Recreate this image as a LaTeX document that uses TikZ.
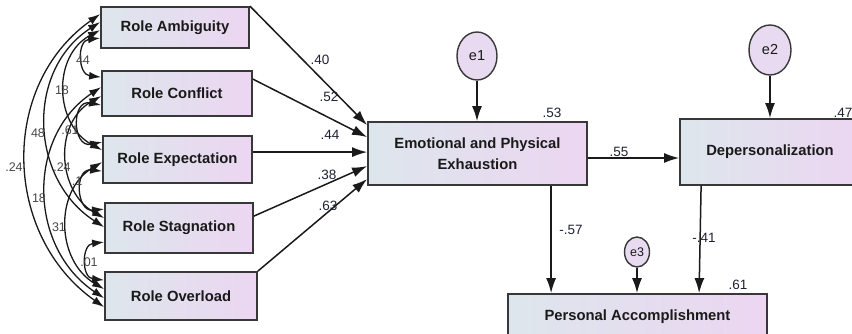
\documentclass[tikz,border=0pt]{standalone}
\usepackage{fontspec}
\setmainfont{Liberation Sans}
\usetikzlibrary{arrows.meta,calc,shapes.geometric}
\definecolor{boxl}{HTML}{DDE6EC}
\definecolor{boxr}{HTML}{ECD6F1}
\definecolor{edge}{HTML}{383838}
\definecolor{ink}{HTML}{1A1A1A}
\definecolor{errfill}{HTML}{E8DAF0}
\definecolor{num}{HTML}{1E2232}
\definecolor{cnum}{HTML}{474747}
\begin{document}
\begin{tikzpicture}[x=1pt,y=-1pt,
  box/.style={draw=edge, line width=1.8pt, left color=boxl, right color=boxr,
    inner sep=0pt, align=center, text=ink,
    font=\bfseries\fontsize{14.8}{20.5}\selectfont},
  err/.style={ellipse, draw=edge, line width=1.4pt, fill=errfill, inner sep=0pt,
    text=ink, font=\fontsize{14.5}{16}\selectfont},
  arr/.style={draw=ink, line width=1.5pt, -{Latex[length=15pt,width=10pt]}},
  cor/.style={draw=ink, line width=1.3pt,
    {Latex[length=12pt,width=8pt]}-{Latex[length=12pt,width=8pt]}},
  lab/.style={text=num, font=\fontsize{13.5}{15}\selectfont, inner sep=0pt},
  clab/.style={text=cnum, font=\fontsize{12.5}{14}\selectfont, inner sep=0pt}]
\useasboundingbox (0,0) rectangle (852,334);
\fill[white] (0,0) rectangle (852,334);

% exogenous role variables
\node[box, minimum width=148pt, minimum height=41pt] (A) at (175,27.5) {Role Ambiguity};
\node[box, minimum width=150pt, minimum height=45pt] (C) at (177,93.5) {Role Conflict};
\node[box, minimum width=149pt, minimum height=47pt] (X) at (177.5,159.5) {Role Expectation};
\node[box, minimum width=148pt, minimum height=50pt] (S) at (179,228) {Role Stagnation};
\node[box, minimum width=152pt, minimum height=48pt] (O) at (181,296) {Role Overload};

% burnout dimensions
\node[box, minimum width=219pt, minimum height=63pt] (E) at (477.5,153.5) {Emotional and Physical\\Exhaustion};
\node[box, minimum width=180pt, minimum height=66pt] (D) at (770,152) {Depersonalization};
\node[box, minimum width=259pt, minimum height=46pt] (P) at (637.5,317) {Personal Accomplishment};

% residual terms
\node[err, minimum width=40pt, minimum height=48pt] (e1) at (477,56) {e1};
\node[err, minimum width=42pt, minimum height=50pt] (e2) at (770,50) {e2};
\node[err, minimum width=25pt, minimum height=30pt, font=\fontsize{12.5}{14}\selectfont] (e3) at (637,252) {e3};

\draw[arr] (e1) -- (e1 |- E.north);
\draw[arr] (e2) -- (e2 |- D.north);
\draw[arr] (e3) -- (e3 |- P.north);

% structural paths
\draw[arr] ([yshift=-4.5pt]E.east) -- ([yshift=-6pt]D.west);
\coordinate (ep) at ($(E.south west)+(184,0)$);
\draw[arr] (ep) -- (ep |- P.north);
\coordinate (dp) at ($(D.south west)+(22,0)$);
\coordinate (pd) at ($(P.north west)+(192,0)$);
\draw[arr] (dp) -- (pd);

% paths into exhaustion
\coordinate (eA) at ($(E.north west)+(0,4)$);
\coordinate (eC) at ($(E.north west)+(0,16)$);
\coordinate (eX) at ($(E.north west)+(0,31)$);
\coordinate (eS) at ($(E.north west)+(0,45)$);
\coordinate (eO) at ($(E.north west)+(0,58)$);
\coordinate (cE) at ($(C.north east)+(0,9)$);
\coordinate (xE) at ($(X.north east)+(0,17)$);
\coordinate (sE) at ($(S.north east)+(0,14)$);
\draw[arr] (A.north east) -- (eA);
\draw[arr] (cE) -- (eC);
\draw[arr] (xE) -- (eX);
\draw[arr] (sE) -- (eS);
\draw[arr] (O.north east) -- (eO);

% coefficients
\node[lab] at (320,60) {.40};
\node[lab] at (329,97) {.52};
\node[lab] at (330,135) {.44};
\node[lab] at (327,175) {.38};
\node[lab] at (328,206) {.63};
\node[lab] at (552,113) {.53};
\node[lab] at (619,152) {.55};
\node[lab] at (843,113) {.47};
\node[lab] at (571,230) {-.57};
\node[lab] at (704,238) {-.41};
\node[lab] at (738,285) {.61};

% attachment points of the covariance arcs
\coordinate (a1) at ($(A.north west)+(0,8)$);
\coordinate (a2) at ($(A.north west)+(0,16)$);
\coordinate (a3) at ($(A.north west)+(0,24)$);
\coordinate (a4) at ($(A.north west)+(0,32)$);
\coordinate (c1) at ($(C.north west)+(0,7)$);
\coordinate (c2) at ($(C.north west)+(0,17)$);
\coordinate (c3) at ($(C.north west)+(0,26)$);
\coordinate (c4) at ($(C.north west)+(0,35)$);
\coordinate (x1) at ($(X.north west)+(0,7)$);
\coordinate (x2) at ($(X.north west)+(0,15)$);
\coordinate (x3) at ($(X.north west)+(0,27)$);
\coordinate (x4) at ($(X.north west)+(0,36)$);
\coordinate (s1) at ($(S.north west)+(0,7)$);
\coordinate (s2) at ($(S.north west)+(0,16)$);
\coordinate (s3) at ($(S.north west)+(0,25)$);
\coordinate (s4) at ($(S.north west)+(0,40)$);
\coordinate (o1) at ($(O.north west)+(0,9)$);
\coordinate (o2) at ($(O.north west)+(0,18)$);
\coordinate (o3) at ($(O.north west)+(0,27)$);
\coordinate (o4) at ($(O.north west)+(0,36)$);

% covariance arcs
\draw[cor] (a1) .. controls +(-101.3,71.4) and +(-101.3,-71.4) .. (o4);
\draw[cor] (a2) .. controls +(-74.7,48) and +(-74.7,-48) .. (s3);
\draw[cor] (c2) .. controls +(-75.3,50.1) and +(-75.3,-50.1) .. (o3);
\draw[cor] (a3) .. controls +(-48,25.6) and +(-48,-25.6) .. (x2);
\draw[cor] (c3) .. controls +(-47.3,26.9) and +(-47.3,-26.9) .. (s2);
\draw[cor] (x3) .. controls +(-48,28.7) and +(-48,-28.7) .. (o2);
\draw[cor] (a4) .. controls +(-23.3,2.5) and +(-23.3,-2.5) .. (c1);
\draw[cor] (c4) .. controls +(-30,-5.9) and +(-30,5.9) .. (x1);
\draw[cor] (x4) .. controls +(-28,-2.8) and +(-28,2.8) .. (s1);
\draw[cor] (s4) .. controls +(-22.7,2.5) and +(-22.7,-2.5) .. (o1);

% covariance values
\node[clab] at (83,60) {44};
\node[clab] at (62,90) {18};
\node[clab] at (38,133) {48};
\node[clab] at (14,167) {.24};
\node[clab] at (70,130) {.61};
\node[clab] at (62,167) {.24};
\node[clab] at (39,198) {18};
\node[clab] at (59,227) {31};
\node[clab] at (77,181) {.1};
\node[clab] at (89,262) {.01};
\end{tikzpicture}
\end{document}
